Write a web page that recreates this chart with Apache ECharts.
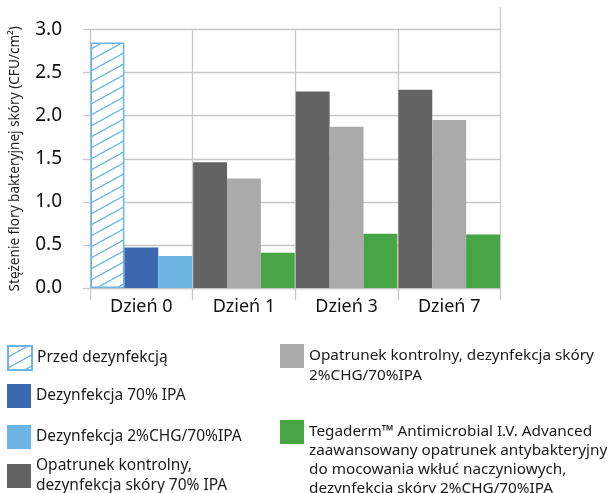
<!DOCTYPE html>
<html>
<head>
<meta charset="utf-8">
<script src="https://cdn.jsdelivr.net/npm/echarts@6/dist/echarts.min.js"></script>
<style>
html,body{margin:0;padding:0;background:#fff;}
#chart{width:609px;height:493px;}
</style>
</head>
<body>
<div id="chart"></div>
<script>
// ---- data ----
var categories = ['Dzień 0', 'Dzień 1', 'Dzień 3', 'Dzień 7'];
var yTicks = [0, 0.5, 1.0, 1.5, 2.0, 2.5, 3.0];
var seriesNames = [
  'Przed dezynfekcją',
  'Dezynfekcja 70% IPA',
  'Dezynfekcja 2%CHG/70%IPA',
  'Opatrunek kontrolny, dezynfekcja skóry 70% IPA',
  'Opatrunek kontrolny, dezynfekcja skóry 2%CHG/70%IPA',
  'Tegaderm™ Antimicrobial I.V. Advanced zaawansowany opatrunek antybakteryjny do mocowania wkłuć naczyniowych, dezynfekcja skóry 2%CHG/70%IPA'
];
var legendLabels = [
  'Przed dezynfekcją',
  'Dezynfekcja 70% IPA',
  'Dezynfekcja 2%CHG/70%IPA',
  'Opatrunek kontrolny,\ndezynfekcja skóry 70% IPA',
  'Opatrunek kontrolny, dezynfekcja skóry\n2%CHG/70%IPA',
  'Tegaderm™ Antimicrobial I.V. Advanced\nzaawansowany opatrunek antybakteryjny\ndo mocowania wkłuć naczyniowych,\ndezynfekcja skóry 2%CHG/70%IPA'
];
var przed      = [2.85, '-', '-', '-'];
var ipa70      = [0.47, '-', '-', '-'];
var chg70      = [0.37, '-', '-', '-'];
var kontrolIPA = ['-', 1.46, 2.28, 2.30];
var kontrolCHG = ['-', 1.27, 1.87, 1.95];
var tegaderm   = ['-', 0.41, 0.63, 0.62];
var yAxisTitle = 'Stężenie flory bakteryjnej skóry (CFU/cm²)';

// ---- style ----
var FONT = 'Noto Sans';
var colors = ['#6cb4e4', '#3b69ae', '#6db6e4', '#636363', '#aaaaaa', '#48a546'];

// hatch pattern
var pc = document.createElement('canvas');
pc.width = 20; pc.height = 11;
var pctx = pc.getContext('2d');
pctx.fillStyle = '#ffffff';
pctx.fillRect(0, 0, 20, 11);
pctx.strokeStyle = '#6cb4e4';
pctx.lineWidth = 1.3;
for (var k = -1; k <= 1; k++) {
  pctx.beginPath();
  pctx.moveTo(0, 11 + 11 * k);
  pctx.lineTo(20, 11 * k);
  pctx.stroke();
}

var gridLeft = 89, gridRight = 108.5, gridTop = 29.5, gridBottom = 205;

var chart = echarts.init(document.getElementById('chart'), null, {renderer: 'canvas'});

var dataSets = [przed, ipa70, chg70, kontrolIPA, kontrolCHG, tegaderm];
var stacks = ['a', 'b', 'c', 'a', 'b', 'c'];
var series = dataSets.map(function (d, i) {
  var s = {
    name: seriesNames[i],
    type: 'bar',
    stack: stacks[i],
    data: d,
    barGap: '0%',
    barCategoryGap: '1%',
    itemStyle: {color: colors[i]},
    emphasis: {disabled: true}
  };
  if (i === 0) {
    s.itemStyle = {
      color: {image: pc, repeat: 'repeat'},
      borderColor: '#6cb4e4',
      borderWidth: 1.5
    };
  }
  return s;
});

// legend placements (blank lines on top push text down so its first line sits beside the icon)
var legendPos = [
  {left: 7, top: 345, blank: 0, fs: 15.5, lh: 20},
  {left: 7, top: 384, blank: 0, fs: 15.5, lh: 20},
  {left: 7, top: 425, blank: 0, fs: 15.5, lh: 20},
  {left: 7, top: 456, blank: 0, fs: 15.5, lh: 20},
  {left: 280, top: 326, blank: 1, fs: 15.3, lh: 20},
  {left: 280, top: 365.5, blank: 3, fs: 15.3, lh: 19}
];
var legends = seriesNames.map(function (n, i) {
  var p = legendPos[i];
  var pre = '';
  for (var b = 0; b < p.blank; b++) pre += ' \n';
  return {
    data: [n],
    left: p.left,
    top: p.top,
    padding: 0,
    orient: 'vertical',
    itemWidth: 24,
    itemHeight: 24,
    itemGap: 0,
    selectedMode: false,
    icon: 'rect',
    formatter: function () { return pre + legendLabels[i]; },
    textStyle: {
      fontFamily: FONT,
      fontSize: p.fs,
      lineHeight: p.lh,
      color: '#1a1a1a'
    }
  };
});

var option = {
  animation: false,
  backgroundColor: '#ffffff',
  grid: {left: gridLeft, right: gridRight, top: gridTop, bottom: gridBottom, containLabel: false},
  legend: legends,
  xAxis: {
    type: 'category',
    data: categories,
    axisLine: {show: true, lineStyle: {color: '#c8c8c8', width: 1.3}},
    axisTick: {show: true, length: 12, lineStyle: {color: '#c8c8c8', width: 1.3}},
    splitLine: {show: true, lineStyle: {color: '#c8c8c8', width: 1.3}},
    axisLabel: {fontFamily: FONT, fontSize: 18, color: '#111', margin: 10}
  },
  yAxis: {
    type: 'value',
    min: yTicks[0],
    max: yTicks[yTicks.length - 1],
    interval: 0.5,
    name: yAxisTitle,
    nameLocation: 'middle',
    nameGap: 68,
    nameTextStyle: {fontFamily: FONT, fontSize: 13.6, color: '#1a1a1a'},
    axisLine: {show: false},
    axisTick: {show: true, length: 7, lineStyle: {color: '#c8c8c8', width: 1.3}},
    splitLine: {show: true, lineStyle: {color: '#c8c8c8', width: 1.3}},
    axisLabel: {
      fontFamily: FONT, fontSize: 19, color: '#111', margin: 28,
      formatter: function (v) { return v.toFixed(1); }
    }
  },
  graphic: [{
    type: 'line',
    shape: {x1: 609 - gridRight, y1: 7, x2: 609 - gridRight, y2: gridTop},
    style: {stroke: '#c8c8c8', lineWidth: 1.3},
    silent: true
  }],
  series: series
};
chart.setOption(option);
</script>
</body>
</html>
